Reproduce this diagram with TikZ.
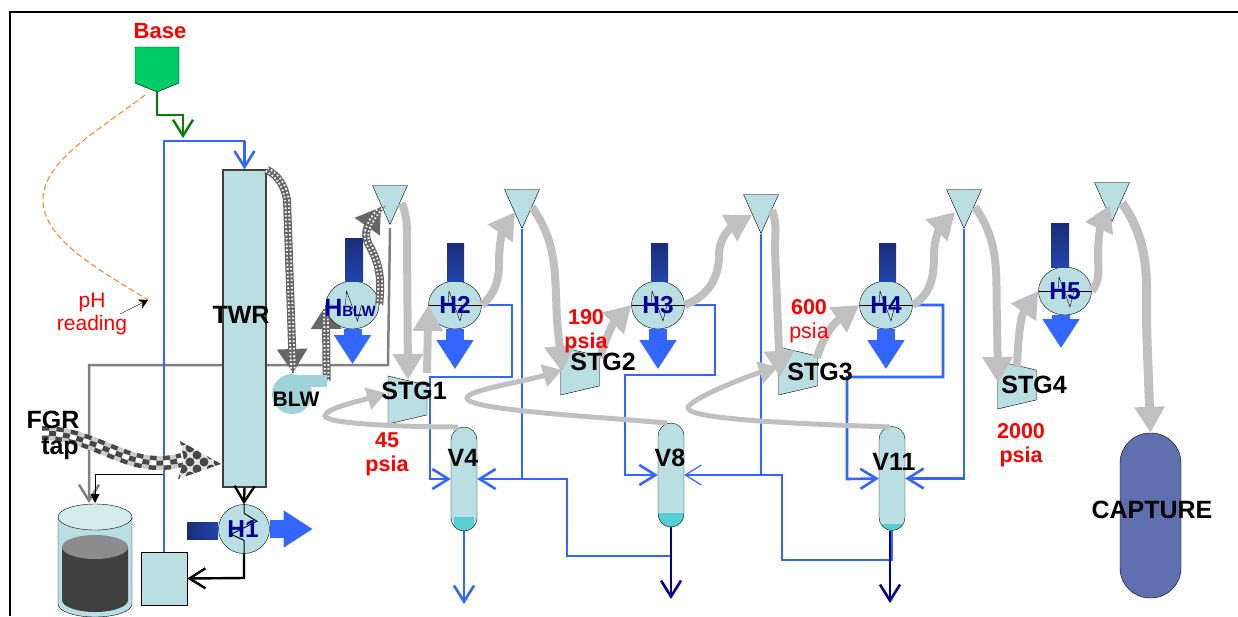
\documentclass[tikz,border=0pt]{standalone}
\usepackage{fontspec}
\setmainfont{Liberation Sans}
\usetikzlibrary{arrows.meta, shapes.geometric, backgrounds}
\definecolor{paleteal}{HTML}{B9DFE3}
\definecolor{blwteal}{HTML}{9FD3D9}
\definecolor{liquidteal}{HTML}{55CFD0}
\definecolor{pipeblue}{HTML}{3366FF}
\definecolor{pipegray}{HTML}{C0C0C0}
\definecolor{linegray}{HTML}{808080}
\definecolor{navyblue}{HTML}{000099}
\definecolor{basegreen}{HTML}{00CC66}
\definecolor{heattop}{HTML}{1A2E78}
\definecolor{heatbot}{HTML}{2244AA}
\definecolor{capblue}{HTML}{5E70B0}
\definecolor{chaindark}{HTML}{666666}
\definecolor{dashorange}{HTML}{FF7F27}
\tikzset{unit/.style={draw,fill=paleteal,inner sep=0pt},
         heaterbody/.style={unit,ellipse,minimum width=53pt,minimum height=48pt,text=navyblue,font=\fontsize{24.5}{26}\selectfont\bfseries},
         heater/.style={heaterbody,path picture={
                \draw[draw=#1](path picture bounding box.west)--(path picture bounding box.east);
                \draw(path picture bounding box.center)++(-7,0)--++(1,-14)--++(11,30)--++(4,-16);}},
         splitter/.style={unit,isosceles triangle,shape border rotate=270,isosceles triangle stretches,minimum width=35pt,minimum height=39pt,anchor=apex},
         stage/.style={unit,trapezium,trapezium stretches,inner sep=1pt,shape border rotate=270,minimum width=48pt,minimum height=39pt,trapezium angle=73},
         vessel/.style={unit,minimum width=26pt,minimum height=104pt,rounded corners=13pt,path picture={
                \fill[liquidteal,sharp corners]([xshift=#1]path picture bounding box.south west)rectangle([xshift=-#1,yshift=14pt]path picture bounding box.south east);}},
         vesselb/.style={vessel=0pt,path picture={
                \fill[liquidteal,sharp corners]([xshift=3pt]path picture bounding box.south west)rectangle([xshift=-3pt,yshift=7pt]path picture bounding box.south east);}},
         blacktext/.style={font=\fontsize{25}{27}\selectfont\bfseries,inner sep=0pt},
         redtext/.style={text=red,font=\fontsize{21.5}{24}\selectfont\bfseries,inner sep=0pt,align=center},
         barb/.style={-{Straight Barb[length=16pt,width=20pt]}},
         bluepipe/.style={draw=pipeblue,line width=2.6pt,barb},
         thinpipe/.style={draw=pipeblue,line width=1.2pt},
         graypipe/.style={draw=pipegray,line width=8pt,-{Triangle[length=26pt,width=29pt]}},
         recycle/.style={draw=pipegray,line width=5pt,-{Triangle[length=19pt,width=22pt]}},
         heatin/.style={top color=heattop,bottom color=heatbot},
         heatout/.style={draw=pipeblue,line width=18pt,-{Triangle[length=29pt,width=35pt]}},
         chainpipe/.style={draw=chaindark,line width=8pt,-{Triangle[length=24pt,width=29pt,fill=gray]},
                postaction={draw=white,arrows=-,line width=5.5pt,dash pattern=on 1.6pt off 2.2pt},
                postaction={draw=chaindark,arrows=-,line width=1.6pt}},
        }

\begin{document}
\begin{tikzpicture}[x=1pt,y=-1pt]
        \useasboundingbox(0,0)rectangle(1238,616);
        \coordinate(framea)at(1238,12);
        \coordinate(frameb)at(10,12);
        \coordinate(framec)at(10,616);
        \draw[line width=2.5pt](framea)--(frameb)--(framec);

        \node[splitter](ta)at(390,225){};
        \node[splitter](tb)at(522,229){};
        \node[splitter](tc)at(761,234){};
        \node[splitter](td)at(964,229){};
        \node[splitter](te)at(1112,222){};

        \node[text=red,font=\fontsize{22}{24}\selectfont\bfseries,inner sep=0pt](baselab)at(160,31){Base};
        \fill[basegreen,draw=black](135,47)--(179,47)--(179,83)--(157,92)--(135,83)--cycle;
        \coordinate(basetip)at(157,92);
        \coordinate(baseelb)at(183,115);
        \coordinate(bluetee)at(183,138);
        \draw[draw=green!50!black,line width=2.4pt,barb](basetip)|-(baseelb)--(bluetee);

        \coordinate(baseleft)at(145,95);
        \coordinate(phbend)at(43,200);
        \coordinate(phpoint)at(148,300);
        \coordinate(phstart)at(120,314);
        \draw[draw=dashorange,line width=1pt,dash pattern=on 6pt off 3pt](baseleft).. controls(100,130)and(43,160)..(phbend).. controls(43,240)and(100,270)..(phpoint);
        \draw[-{Stealth[length=9pt,width=10pt]}](phstart)--(phpoint);
        \node[text=red,font=\fontsize{21}{23}\selectfont,inner sep=0pt,align=center](phlab)at(92,314){pH\\reading};

        \node[unit,draw=black!75,line width=1.2pt,minimum width=43pt,minimum height=317pt](twr)at(244.5,328.5){};
        \node[unit,minimum width=46pt,minimum height=53pt](sump)at(164,578.5){};

        \coordinate(graye)at(388,365);
        \coordinate(grayw)at(89,365);
        \coordinate(graytank)at(89,503);
        \begin{pgfonlayer}{background}
        \draw[draw=linegray,line width=2.5pt,barb]([yshift=-3pt]ta.apex)--(graye)--(grayw)--(graytank);
        \end{pgfonlayer}

        \coordinate(blueleft)at(164,141);
        \coordinate(blueright)at(244.5,141);
        \coordinate(tankup)at(163,474);
        \coordinate(tankleft)at(95,474);
        \coordinate(tankin)at(95,503);
        \draw[line width=1pt,-{Triangle[length=9pt,width=9pt]}]([xshift=-1pt]sump.north)--(tankup)--(tankleft)--(tankin);
        \draw[bluepipe,-](sump.north)--(blueleft)--(blueright);
        \draw[bluepipe](blueright)--(twr.north);

        \fill[paleteal,draw=black](58,517)--(58,604)arc[start angle=180,end angle=360,x radius=37,y radius=-13]--(132,517)--cycle;
        \fill[black!75](62,547)--(62,600)arc[start angle=180,end angle=360,x radius=33,y radius=-12]--(128,547)--cycle;
        \fill[black!45](95,547)ellipse[x radius=33,y radius=12];
        \node[unit,ellipse,fill=paleteal!60,minimum width=74pt,minimum height=26pt](tank)at(95,517){};

        \node[heater=none](hblw)at(352.5,305){};
        \node[heater=black](hb)at(455,305){H2};
        \node[heater=black](hc)at(658,305){H3};
        \node[heater=black](hd)at(886,305){H4};
        \node[heater=black](he)at(1065,291){H5};
        \node[heaterbody,minimum width=51pt,minimum height=49pt](ha)at(244,529){};
        \node[font=\fontsize{25}{26}\selectfont\bfseries,text=navyblue,inner sep=0pt](hblwlab)at(350,308){H{\fontsize{15}{15}\selectfont BLW}};

        \shade[heatin](345,238)rectangle(363,281);
        \shade[heatin](447,243)rectangle(464,281);
        \shade[heatin](651,243)rectangle(668,281);
        \shade[heatin](879,243)rectangle(896,281);
        \shade[heatin](1051,223)rectangle(1069,267);
        \shade[left color=heattop,right color=heatbot](187,522)rectangle(218,539);
        \draw[heatout](hblw.south)--++(0,35);
        \draw[heatout](hb.south)--++(0,40);
        \draw[heatout](hc.south)--++(0,40);
        \draw[heatout](hd.south)--++(0,40);
        \draw[heatout]([xshift=-4pt]he.south)--++(0,33);
        \draw[heatout](ha.east)--++(43,0);

        \draw[line width=2.4pt,barb](twr.south)--(ha.north);
        \draw[line width=1pt](ha.north)--++(0,9)--++(13,8)--++(-26,13)--++(13,6)--(ha.south);
        \coordinate(habot)at(244,578);
        \draw[line width=2.4pt,barb](ha.south)--(habot)--(sump.east);
        \node[font=\fontsize{24.5}{26}\selectfont\bfseries,text=navyblue,inner sep=0pt](halab)at(243,529){H1};

        \node[unit,draw=none,fill=blwteal,circle,minimum size=40pt](blw)at(292,394){};
        \node[unit,draw=none,fill=blwteal,minimum width=35pt,minimum height=12pt](blwout)at(309,381){};

        \node[stage](sa)at(407.5,400){};
        \node[stage](sb)at(580,371){};
        \node[stage](sc)at(798,371){};
        \node[stage](sd)at(1017,385){};

        \node[vessel=3pt](va)at(464,479){};
        \node[vessel=0pt](vb)at(671,475){};
        \node[vesselb](vc)at(892,478.5){};
        \node[unit,fill=capblue,minimum width=61pt,minimum height=165pt,rounded corners=30pt](cap)at(1150.5,515.5){};

        \coordinate(loopa)at(512,305);
        \coordinate(loopb)at(512,377);
        \coordinate(loopc)at(430,377);
        \coordinate(loopd)at(430,479);
        \draw[bluepipe](hb.east)--(loopa)--(loopb)--(loopc)--(loopd)--(va.west);
        \coordinate(loope)at(715,305);
        \coordinate(loopf)at(715,375);
        \coordinate(loopg)at(625,375);
        \coordinate(looph)at(625,475);
        \draw[bluepipe](hc.east)--(loope)--(loopf)--(loopg)--(looph)--(vb.west);
        \coordinate(loopi)at(943,305);
        \coordinate(loopj)at(943,377);
        \coordinate(loopk)at(847,377);
        \coordinate(loopl)at(847,479);
        \draw[bluepipe](hd.east)--(loopi)--(loopj)--(loopk)--(loopl)--(vc.west);

        \coordinate(rtna)at(522,479);
        \coordinate(rtnb)at(567,479);
        \coordinate(rtnc)at(567,556);
        \coordinate(rtnd)at(671,556);
        \draw[thinpipe](tb.apex)--(rtna);
        \draw[bluepipe](rtnd)--(rtnc)--(rtnb)--(va.east);
        \coordinate(rtne)at(761,475);
        \coordinate(rtnf)at(782,475);
        \coordinate(rtng)at(782,560);
        \coordinate(rtnh)at(892,560);
        \draw[thinpipe](tc.apex)--(rtne);
        \draw[thinpipe,barb](vc.south)--(rtnh)--(rtng)--(rtnf)--(vb.east);
        \coordinate(rtni)at(964,478.5);
        \draw[bluepipe](td.apex)--(rtni)--(vc.east);

        \coordinate(outa)at(464,604);
        \coordinate(outb)at(671,599);
        \coordinate(outc)at(890,603);
        \draw[bluepipe](va.south)--(outa);
        \draw[draw=navyblue,line width=2.6pt,barb](vb.south)--(outb);
        \draw[draw=navyblue,line width=2.6pt,barb]([xshift=-2pt]vc.south)--(outc);

        \coordinate(ga)at(402,203);
        \coordinate(gb)at(407,240);
        \coordinate(gc)at(408,380);
        \draw[graypipe](ga)to[out=-70,in=90](gb)--(gc);
        \coordinate(gd)at(427,373);
        \draw[graypipe](gd)--(hb.west);
        \coordinate(ge)at(499,262);
        \coordinate(gf)at(515,212);
        \draw[graypipe](hb.east)to[out=40,in=-90](ge)to[out=90,in=235](gf);
        \coordinate(gg)at(532,207);
        \coordinate(gh)at(557,320);
        \coordinate(gi)at(562,372);
        \draw[graypipe](gg)to[out=-55,in=93](gh)--(gi);
        \coordinate(gj)at(600,358);
        \draw[graypipe](gj)to[out=75,in=225](hc.west);
        \coordinate(gk)at(719,255);
        \coordinate(gl)at(752,215);
        \draw[graypipe](hc.east)to[out=20,in=-90](gk)to[out=90,in=210](gl);
        \coordinate(gm)at(772,210);
        \coordinate(gn)at(775,250);
        \coordinate(go)at(780,377);
        \draw[graypipe](gm)to[out=-70,in=90](gn)--(go);
        \coordinate(gp)at(817,358);
        \draw[graypipe](gp)to[out=75,in=215](hd.west);
        \coordinate(gq)at(934,255);
        \coordinate(gr)at(955,212);
        \draw[graypipe](hd.east)to[out=30,in=-90](gq)to[out=90,in=225](gr);
        \coordinate(gs)at(975,207);
        \coordinate(gt)at(997,320);
        \coordinate(gu)at(998,383);
        \draw[graypipe](gs)to[out=-55,in=92](gt)--(gu);
        \coordinate(gv)at(1017,367);
        \draw[graypipe](gv)to[out=88,in=235](he.west);
        \coordinate(gw)at(1098,255);
        \coordinate(gx)at(1110,205);
        \draw[graypipe](he.east)to[out=50,in=-90](gw)to[out=90,in=245](gx);
        \coordinate(gy)at(1122,203);
        \coordinate(gz)at(1147,340);
        \draw[graypipe,line width=9pt](gy)to[out=-55,in=92](gz)--(cap.north);

        \coordinate(ra)at(458,427);
        \coordinate(rb)at(325,416);
        \coordinate(rc)at(386,393);
        \draw[recycle](ra)to[out=180,in=270,in looseness=.15](rb)to[out=90,in=197,out looseness=.3](rc);
        \coordinate(rd)at(667,423);
        \coordinate(re)at(467,398);
        \coordinate(rf)at(562,370);
        \draw[recycle](rd)to[out=175,in=270,in looseness=.15](re)to[out=90,in=197,out looseness=.2](rf);
        \coordinate(rg)at(890,427);
        \coordinate(rh)at(688,408);
        \coordinate(ri)at(778,367);
        \draw[recycle](rg)to[out=178,in=270,in looseness=.15](rh)to[out=90,in=197,out looseness=.2](ri);

        \coordinate(cha)at(287,200);
        \coordinate(chb)at(293,373);
        \draw[chainpipe](twr.north east)to[out=-30,in=100](cha)--(chb);
        \begin{pgfonlayer}{background}
        \draw[chainpipe](blwout.east)--(hblw.west);
        \end{pgfonlayer}
        \coordinate(chc)at(369,245);
        \coordinate(chd)at(381,207);
        \draw[chainpipe](hblw.east)to[out=85,in=-60](chc)to[out=120,in=235](chd);

        \coordinate(fgrin)at(42,433);
        \coordinate(fgrend)at(182,460);
        \coordinate(fgrtip)at(221,464);
        \draw[line width=14pt,draw=white!80!black](fgrin)to[out=0,in=195](fgrend);
        \draw[line width=14pt,draw=chaindark!70!black,dash pattern=on 7pt off 7pt](fgrin)to[out=0,in=195](fgrend);
        \draw[line width=5pt,draw=white](fgrin)to[out=0,in=195](fgrend);
        \draw[line width=5pt,draw=chaindark!70!black,dash pattern=on 7pt off 7pt,dash phase=7pt](fgrin)to[out=0,in=195](fgrend);
        \begin{scope}
        \clip(180,441)--(fgrtip)--(178,479)--(184,460)--cycle;
        \fill[white!90!black](170,435)rectangle(225,485);
        \foreach \px in {176,190,204,218}
                \foreach \py in {434,448,462,476}{
                \fill[chaindark!70!black](\px,\py)circle[radius=4.5];
                \fill[chaindark!70!black](\px+7,\py+7)circle[radius=4.5];}
        \end{scope}

        \node[blacktext](twrlab)at(241,315){TWR};
        \node[blacktext,font=\fontsize{21}{23}\selectfont\bfseries](blwlab)at(296,399){BLW};
        \node[blacktext](salab)at(414,391){STG1};
        \node[blacktext](sblab)at(603,362){STG2};
        \node[blacktext](sclab)at(820,372){STG3};
        \node[blacktext](sdlab)at(1034,385){STG4};
        \node[blacktext](valab)at(463,458){V4};
        \node[blacktext](vblab)at(670,458){V8};
        \node[blacktext](vclab)at(894,462){V11};
        \node[blacktext](caplab)at(1152,510){CAPTURE};
        \node[blacktext](fgrlab)at(53,420){FGR};
        \node[blacktext](taplab)at(60,449){tap};
        \node[redtext](pa)at(387,454){45\\psia};
        \node[redtext](pb)at(586,331){190\\psia};
        \node[redtext](pc)at(1021,445){2000\\psia};
        \node[redtext,font=\fontsize{21.5}{24}\selectfont](pd)at(809,321){{\bfseries 600}\\psia};
\end{tikzpicture}
\end{document}
